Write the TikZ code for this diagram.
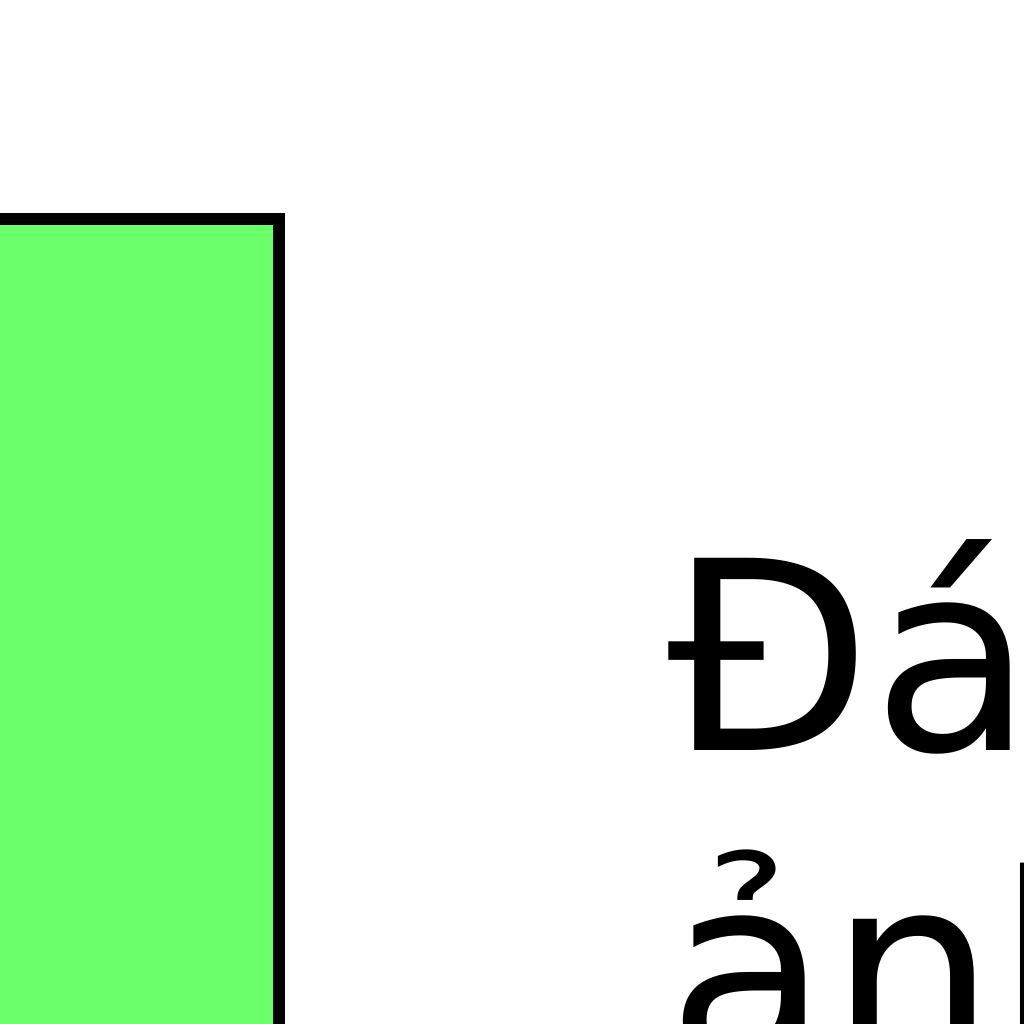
\documentclass[tikz,border=0pt]{standalone}
\usepackage{fontspec}
\setmainfont{DejaVu Sans}
\definecolor{boxgreen}{RGB}{108,255,108}
\tikzset{
  greenbox/.style={fill=boxgreen, draw=black, line width=0.12cm},
  bigtext/.style={inner sep=0pt, align=left, font=\fontsize{75}{89}\selectfont},
}
\begin{document}
\begin{tikzpicture}[x=0.01cm, y=-0.01cm]
  \useasboundingbox (0,0) rectangle (1024,1024);
  % green block, cut by the page edge
  \draw[greenbox] (-60,219) rectangle (279,1100);
  \node[bigtext, anchor=base west] (title) at (667,1063) {Đánh\\ảnh};
\end{tikzpicture}
\end{document}
